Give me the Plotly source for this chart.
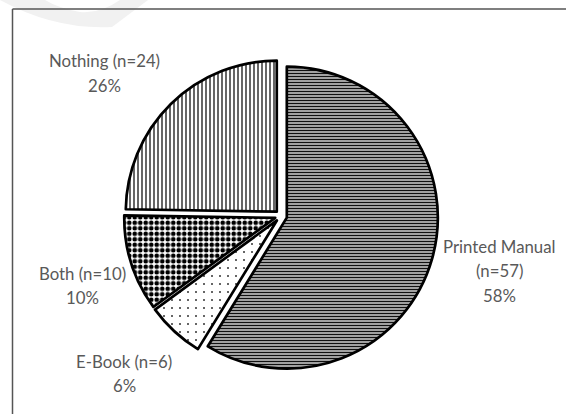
import plotly.graph_objects as go

# ---- data ----
categories = ["Printed Manual", "E-Book", "Both", "Nothing"]
counts = [57, 6, 10, 24]
percent_labels = ["58%", "6%", "10%", "26%"]

# ---- styles ----
pattern_shapes = ["-", ".", ".", "|"]
pattern_sizes = [3, 8, 5.5, 4]
pattern_solidity = [0.55, 0.05, 0.55, 0.3]
pattern_fg = ["#111111", "#333333", "#000000", "#000000"]
pattern_bg = ["#e6e6e6", "white", "white", "white"]
pull = [0.04, 0.04, 0.04, 0.04]

W, H = 566, 414
cx, cy, r = 281, 216, 151
half = r * (1 + max(pull))

fig = go.Figure()
fig.add_trace(go.Pie(
    labels=categories,
    values=counts,
    sort=False,
    direction="clockwise",
    rotation=0,
    pull=pull,
    textinfo="none",
    hoverinfo="label+value",
    showlegend=False,
    marker=dict(
        colors=["white"] * 4,
        line=dict(color="black", width=2.7),
        pattern=dict(shape=pattern_shapes, size=pattern_sizes,
                     solidity=pattern_solidity, fgcolor=pattern_fg,
                     bgcolor=pattern_bg, fillmode="replace"),
    ),
    domain=dict(x=[(cx - half) / W, (cx + half) / W],
                y=[(H - cy - half) / H, (H - cy + half) / H]),
))

# label layout (pixel positions of first line centre, line spacing)
label_pos = {
    "Printed Manual": (499, 246),
    "E-Book": (124, 361),
    "Both": (82, 273),
    "Nothing": (104, 61),
}
line_gap = 24.5
annotations = []
for cat, n, pct in zip(categories, counts, percent_labels):
    if cat == "Printed Manual":
        lines = [cat, f"(n={n})", pct]
    else:
        lines = [f"{cat} (n={n})", pct]
    x0, y0 = label_pos[cat]
    for i, t in enumerate(lines):
        annotations.append(dict(
            text=t, x=x0 / W, y=1 - (y0 + i * line_gap) / H,
            xref="paper", yref="paper", xanchor="center", yanchor="middle",
            showarrow=False, font=dict(family="Lato", size=16.8, color="#595959"),
        ))

shapes = [
    # faint watermark swoosh
    dict(type="path", xref="paper", yref="paper", layer="below",
         path=f"M {0/W},{1} Q {55/W},{1-30/H} {112/W},{1-27/H} L {148/W},{1} L {120/W},{1} "
              f"Q {100/W},{1-14/H} {80/W},{1-12/H} Q {58/W},{1-8/H} {45/W},{1} Z",
         fillcolor="#f1f1f1", line=dict(width=0)),
    # chart frame (left and top edges)
    dict(type="line", xref="paper", yref="paper", x0=12.5 / W, x1=12.5 / W,
         y0=0, y1=1 - 9 / H, line=dict(color="#555555", width=1.5)),
    dict(type="line", xref="paper", yref="paper", x0=12.5 / W, x1=1,
         y0=1 - 9 / H, y1=1 - 9 / H, line=dict(color="#555555", width=1.5)),
]

fig.update_layout(
    width=W, height=H,
    margin=dict(l=0, r=0, t=0, b=0),
    paper_bgcolor="white", plot_bgcolor="white",
    annotations=annotations, shapes=shapes,
)

fig.write_html("out.html")
